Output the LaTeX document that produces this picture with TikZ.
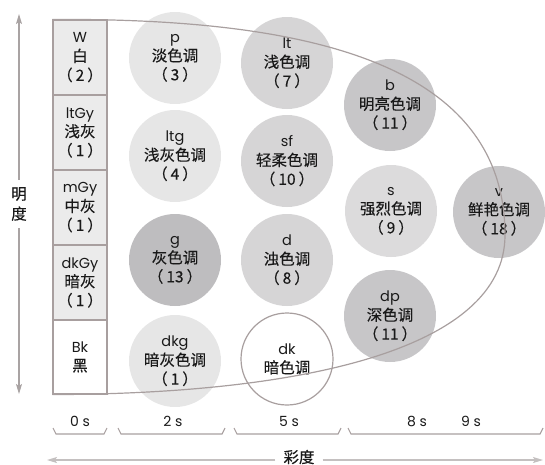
\documentclass[tikz,border=0pt]{standalone}
\usepackage{fontspec}
\setmainfont{Noto Sans CJK SC}[FakeBold=0.25]
\newfontfamily\latfont{Poppins}
\usetikzlibrary{arrows.meta}
\definecolor{edgec}{HTML}{A89F9F}
\definecolor{axisc}{HTML}{A9A3A3}
\definecolor{axisb}{HTML}{C4C0C0}
\definecolor{cellfill}{HTML}{EBEBEB}
\definecolor{toneA}{HTML}{E6E6E6}
\definecolor{toneB}{HTML}{D6D5D6}
\definecolor{toneC}{HTML}{C7C6C8}
\definecolor{toneD}{HTML}{BEBDBF}
\definecolor{toneE}{HTML}{DCDBDC}
\newcommand\latn[1]{{\latfont\fontsize{14.5}{19}\selectfont #1}}
\newcommand\pnum[1]{（\hspace{3pt}#1\hspace{3pt}）}
\tikzset{
  txt/.style={font=\fontsize{15.5}{19}\selectfont, text=black!90, align=center},
  tone/.style={txt, circle, minimum size=92pt, inner sep=0pt},
  cell/.style={txt, rectangle, draw=edgec, line width=1.1pt, fill=cellfill, minimum width=54pt, minimum height=75pt, inner sep=0pt},
  axisarrow/.style={draw=axisc, line width=1.3pt, -{Stealth[length=10pt,width=6pt,inset=2pt]}},
  bottomarrow/.style={draw=axisb, line width=1.3pt, -{Stealth[length=10pt,width=6pt,inset=2pt]}},
  bracketline/.style={draw=edgec, line width=1.1pt},
  curveline/.style={draw=edgec, line width=1.2pt},
  slabel/.style={font=\latfont\fontsize{14}{16}\selectfont, text=black!90}
}
\begin{document}
\begin{tikzpicture}[x=1pt,y=-1pt]
\useasboundingbox (0,0) rectangle (545,464);
% left column
\node[cell] (W) at (80,57.5) {\latn{W}\\白\\\pnum{2}};
\node[cell] (ltGy) at (80,132.5) {\latn{ltGy}\\浅灰\\\pnum{1}};
\node[cell] (mGy) at (80,207.5) {\latn{mGy}\\中灰\\\pnum{1}};
\node[cell] (dkGy) at (80,282.5) {\latn{dkGy}\\暗灰\\\pnum{1}};
\node[cell, fill=white, minimum height=74pt] (Bk) at (80,357) {\latn{Bk}\\黑};
% tone circles
\node[tone, fill=toneA] (p) at (175,58) {\latn{p}\\淡色调\\\pnum{3}};
\node[tone, fill=toneB] (lt) at (287,63) {\latn{lt}\\浅色调\\\pnum{7}};
\node[tone, fill=toneC] (b) at (390,105) {\latn{b}\\明亮色调\\\pnum{11}};
\node[tone, fill=toneA] (ltg) at (175,156) {\latn{ltg}\\浅灰色调\\\pnum{4}};
\node[tone, fill=toneB] (sf) at (287,161) {\latn{sf}\\轻柔色调\\\pnum{10}};
\node[tone, fill=toneE] (s) at (391,211) {\latn{s}\\强烈色调\\\pnum{9}};
\node[tone, fill=toneC] (v) at (499,212) {\latn{v}\\鲜艳色调\\\pnum{18}};
\node[tone, fill=toneD] (g) at (175,260) {\latn{g}\\灰色调\\\pnum{13}};
\node[tone, fill=toneB] (d) at (287,260) {\latn{d}\\浊色调\\\pnum{8}};
\node[tone, fill=toneC] (dp) at (390,316) {\latn{dp}\\深色调\\\pnum{11}};
\node[tone, fill=toneA] (dkg) at (175,361) {\latn{dkg}\\暗灰色调\\\pnum{1}};
\node[tone, fill=white, draw=edgec, line width=1.2pt] (dk) at (287,359) {\latn{dk}\\暗色调};
% boundary curve
\draw[curveline] (W.north west) .. controls (300,18) and (505,60) .. (505,235)
  .. controls (505,350) and (300,394) .. (Bk.south west);
% vertical axis
\node[txt, inner xsep=0pt, inner ysep=7pt, font=\fontsize{15.5}{20}\selectfont] (ylab) at (19,204) {明\\度};
\coordinate (ytop) at (19,14);
\coordinate (ybot) at (19,394);
\draw[axisarrow] (ylab.north) -- (ytop);
\draw[axisarrow] (ylab.south) -- (ybot);
% saturation brackets
\draw[bracketline] (53,428) -- (56,434) -- (104,434) -- (107,428);
\draw[bracketline] (118,428) -- (121,434) -- (222,434) -- (225,428);
\draw[bracketline] (234,428) -- (237,434) -- (338,434) -- (341,428);
\draw[bracketline] (348,428) -- (351,434) -- (540,434) -- (543,428);
\node[slabel] (s0) at (80,421) {0 s};
\node[slabel] (s2) at (173,421) {2 s};
\node[slabel] (s5) at (289,421) {5 s};
\node[slabel] (s8) at (417,421) {8 s};
\node[slabel] (s9) at (471,421) {9 s};
% horizontal axis
\node[txt, inner xsep=8pt, inner ysep=0pt] (xlab) at (299,457) {彩度};
\coordinate (xleft) at (47,460);
\coordinate (xright) at (543,460);
\draw[bottomarrow] (xlab.west |- xleft) -- (xleft);
\draw[bottomarrow] (xlab.east |- xright) -- (xright);
\end{tikzpicture}
\end{document}
